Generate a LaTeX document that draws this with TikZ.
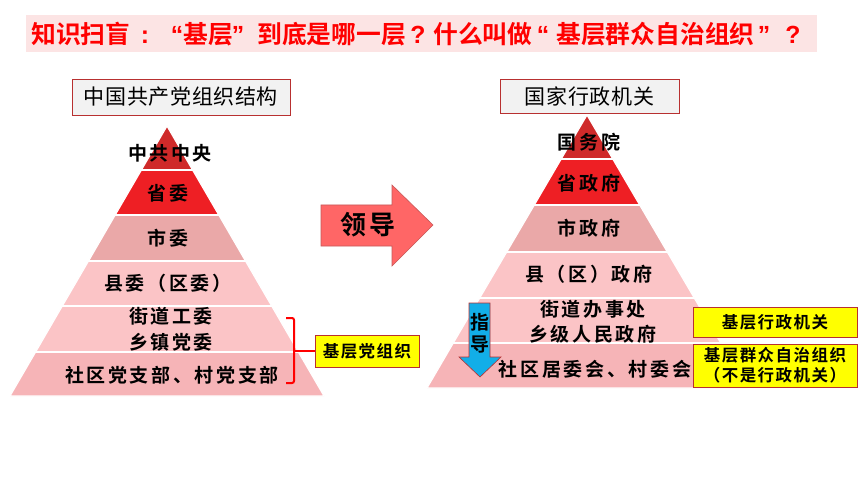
\documentclass[tikz,border=0pt]{standalone}
\usepackage{fontspec}
\newfontfamily\cjkh[LetterSpace=3]{Noto Sans CJK SC}
\newfontfamily\cjkb{Noto Sans CJK SC Bold}
\newfontfamily\cjkbt[LetterSpace=14]{Noto Sans CJK SC Bold}
\newfontfamily\cjkby[LetterSpace=9]{Noto Sans CJK SC Bold}
\newfontfamily\cjkbl[LetterSpace=15]{Noto Sans CJK SC Bold}
\newfontfamily\latb{Liberation Sans Bold}
\definecolor{titlered}{HTML}{FF0000}
\definecolor{titlebg}{HTML}{FCE4E4}
\definecolor{hdrbg}{HTML}{F2F2F2}
\definecolor{boxedge}{HTML}{B83030}
\definecolor{tA}{HTML}{CF2A2A}
\definecolor{tB}{HTML}{EE1F24}
\definecolor{tC}{HTML}{EAA8A8}
\definecolor{tD}{HTML}{FBC4C6}
\definecolor{tE}{HTML}{F6B4B7}
\definecolor{arrowred}{HTML}{FF6666}
\definecolor{arrowblue}{HTML}{12AEE8}
\definecolor{yel}{HTML}{FFFF00}
\tikzset{
  tier/.style={draw=white,line width=1.2pt},
  tiertext/.style={font=\cjkbt\fontsize{19}{21}\selectfont,text=black,inner sep=0pt},
  guidetext/.style={font=\cjkb\fontsize{19}{21}\selectfont,text=black,inner sep=0pt},
  hdr/.style={draw=boxedge,fill=hdrbg,line width=0.8pt,font=\cjkh\fontsize{21}{23}\selectfont,inner sep=0pt},
  ybox/.style={draw=boxedge,fill=yel,line width=0.8pt,font=\cjkby\fontsize{16.5}{20}\selectfont,inner sep=0pt,align=center},
  ttl/.style={inner sep=0pt,text=titlered,font=\cjkb\fontsize{24.8}{26}\selectfont,anchor=base west},
  ttp/.style={inner sep=0pt,text=titlered,font=\latb\fontsize{24.8}{26}\selectfont,anchor=base},
}
\begin{document}
\begin{tikzpicture}[x=1pt,y=-1pt]
\useasboundingbox (0,0) rectangle (860,484);
\fill[white] (0,0) rectangle (860,484);
% title
\fill[titlebg] (26,15) rectangle (817,52);
\node[ttl] (t1) at (31,43.3) {知识扫盲};
\node[ttp] (t2) at (145,43.3) {:};
\node[ttp] (t3) at (177,43.3) {“};
\node[ttl] (t4) at (183,43.3) {基层};
\node[ttp] (t5) at (238,43.3) {”};
\node[ttl] (t6) at (257,43.3) {到底是哪一层};
\node[ttp] (t7) at (418,43.3) {?};
\node[ttl] (t8) at (433,43.3) {什么叫做};
\node[ttp] (t9) at (543,43.3) {“};
\node[ttl] (t10) at (556,43.3) {基层群众自治组织};
\node[ttp] (t11) at (764,43.3) {”};
\node[ttp] (t12) at (793,43.3) {?};
% headers
\node[hdr,minimum width=218pt,minimum height=36pt] (hdrL) at (181,97) {中国共产党组织结构};
\node[hdr,minimum width=179pt,minimum height=34pt] (hdrR) at (589.5,96) {国家行政机关};
% left pyramid
\fill[tier,fill=tA] (167,126) -- (192.6,170) -- (141.4,170) -- cycle;
\fill[tier,fill=tB] (141.4,170) -- (192.6,170) -- (218.8,215) -- (115.2,215) -- cycle;
\fill[tier,fill=tC] (115.2,215) -- (218.8,215) -- (245.5,261) -- (88.5,261) -- cycle;
\fill[tier,fill=tD] (88.5,261) -- (245.5,261) -- (271.7,306) -- (62.3,306) -- cycle;
\fill[tier,fill=tD] (62.3,306) -- (271.7,306) -- (298.4,352) -- (35.6,352) -- cycle;
\fill[tier,fill=tE] (35.6,352) -- (298.4,352) -- (324,396) -- (10,396) -- cycle;
\draw[tier] (141.4,170) -- (192.6,170) (115.2,215) -- (218.8,215) (88.5,261) -- (245.5,261) (62.3,306) -- (271.7,306) (35.6,352) -- (298.4,352);
\node[tiertext] (l1) at (170,153) {中共中央};
\node[tiertext] (l2) at (168,193) {省委};
\node[tiertext] (l3) at (168,238) {市委};
\node[tiertext] (l4) at (168,283) {县委（区委）};
\node[tiertext] (l5a) at (171,316) {街道工委};
\node[tiertext] (l5b) at (171,342) {乡镇党委};
\node[tiertext] (l6) at (172,375) {社区党支部、村党支部};
% bracket and box
\node[ybox,minimum width=104pt,minimum height=32pt] (jcd) at (367,351) {基层党组织};
\draw[red,line width=2pt,rounded corners=2pt] (286,318) -- (294,318) -- (294,383) -- (286,383);
\coordinate (brmid) at (294,351);
\draw[red,line width=2pt] (brmid) -- (jcd.west);
% lead arrow
\filldraw[fill=arrowred,draw=boxedge!80,line width=0.6pt] (321,205) -- (392,205) -- (392,185) -- (433,225) -- (392,266) -- (392,246) -- (321,246) -- cycle;
\node[inner sep=0pt,font=\cjkbl\fontsize{26}{28}\selectfont] (lead) at (368,225) {领导};
% right pyramid
\fill[tier,fill=tA] (587,115) -- (612.8,159) -- (561.2,159) -- cycle;
\fill[tier,fill=tB] (561.2,159) -- (612.8,159) -- (639.7,205) -- (534.3,205) -- cycle;
\fill[tier,fill=tC] (534.3,205) -- (639.7,205) -- (667.3,252) -- (506.7,252) -- cycle;
\fill[tier,fill=tD] (506.7,252) -- (667.3,252) -- (694.3,298) -- (479.7,298) -- cycle;
\fill[tier,fill=tD] (479.7,298) -- (694.3,298) -- (720.7,343) -- (453.3,343) -- cycle;
\fill[tier,fill=tE] (453.3,343) -- (720.7,343) -- (747,388) -- (427,388) -- cycle;
\draw[tier] (561.2,159) -- (612.8,159) (534.3,205) -- (639.7,205) (506.7,252) -- (667.3,252) (479.7,298) -- (694.3,298) (453.3,343) -- (720.7,343);
\node[tiertext] (r1) at (589,142) {国务院};
\node[tiertext] (r2) at (589,183) {省政府};
\node[tiertext] (r3) at (589,228) {市政府};
\node[tiertext] (r4) at (589,274) {县（区）政府};
\node[tiertext] (r5a) at (593,309) {街道办事处};
\node[tiertext] (r5b) at (593,334) {乡级人民政府};
\node[tiertext] (r6) at (595,369) {社区居委会、村委会};
% guide arrow
\filldraw[fill=arrowblue,draw=boxedge,line width=0.6pt] (469,303) -- (490,303) -- (490,357) -- (501,357) -- (480,377) -- (459,357) -- (469,357) -- cycle;
\node[guidetext] (g1) at (480,322) {指};
\node[guidetext] (g2) at (480,345) {导};
% yellow boxes right
\node[ybox,minimum width=164pt,minimum height=30pt] (jcx) at (775,322) {基层行政机关};
\node[ybox,minimum width=164pt,minimum height=43pt] (jcq) at (775,365.5) {基层群众自治组织\\（不是行政机关）};
\end{tikzpicture}
\end{document}
